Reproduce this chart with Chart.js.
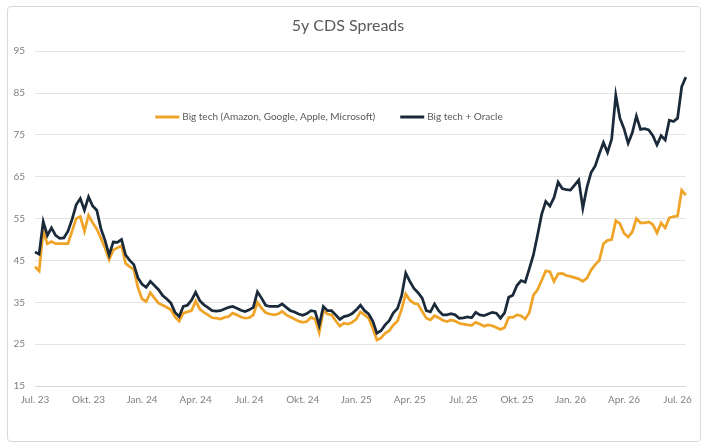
<!DOCTYPE html>
<html>
<head>
<meta charset="utf-8">
<script src="https://cdn.jsdelivr.net/npm/chart.js@4.4.1/dist/chart.umd.min.js"></script>
<style>
  html, body { margin: 0; padding: 0; background: #fff; }
  #box {
    position: absolute; left: 7px; top: 6px;
    width: 692px; height: 434px;
    border: 1px solid #d9d9d9; border-radius: 4px;
  }
</style>
</head>
<body>
<div id="box"><canvas id="mycanvas" width="692" height="434"></canvas></div>
<script>
// Quartalslabels der x-Achse, eine Beschriftung alle 13 Wochen
var quarterLabels = ['Jul. 23', 'Okt. 23', 'Jan. 24', 'Apr. 24', 'Jul. 24', 'Okt. 24',
    'Jan. 25', 'Apr. 25', 'Jul. 25', 'Okt. 25', 'Jan. 26', 'Apr. 26', 'Jul. 26'];
var weeksPerQuarter = 13;

// Wochenwerte (bp)
var bigTech = [
    43.5, 42.5, 52, 49, 49.5, 49, 49, 49, 49, 52, 55, 55.5, 52,
    55.8, 54, 52.5, 50.3, 48, 45.2, 47.5, 48, 48.5, 44.3, 43.5, 42.8, 38.5,
    35.8, 35.2, 37.3, 36, 34.8, 34.3, 33.8, 33.2, 31.5, 30.5, 32.4, 32.7, 33,
    35.3, 33.4, 32.6, 32, 31.3, 31.2, 31, 31.4, 31.6, 32.4, 32, 31.5, 31.2,
    31.3, 32, 35, 33.6, 32.5, 32.2, 32, 32.2, 32.8, 32, 31.5, 31, 30.5,
    30.2, 30.4, 31.4, 31, 27.8, 33, 32.2, 32, 30.6, 29.3, 30, 29.8, 30.2,
    31, 32.7, 32, 31.2, 28.8, 26, 26.5, 27.6, 28.2, 29.6, 30.5, 33.3, 37,
    35.5, 34.8, 34.5, 32.8, 31.2, 30.8, 31.8, 31.3, 30.7, 30.4, 30.8, 30.5, 30,
    29.8, 29.6, 29.5, 30.2, 29.8, 29.3, 29.6, 29.4, 29, 28.5, 29, 31.4, 31.4,
    32, 31.8, 31, 32.5, 36.7, 38, 40.2, 42.5, 42.3, 40, 41.8, 41.9, 41.4,
    41.2, 40.9, 40.6, 40, 40.8, 42.7, 44, 45, 49, 49.8, 50, 54.5, 53.8,
    51.5, 50.6, 51.8, 55, 54, 54, 54.2, 53.6, 51.6, 54, 52.8, 55.2, 55.5,
    55.6, 61.8, 60.6
];
var bigTechOracle = [
    47, 46.5, 54.3, 51, 52.8, 51, 50.3, 50.4, 52, 54.8, 58.3, 59.8, 57,
    60.2, 58, 57, 52.6, 49.8, 46.3, 49.4, 49.3, 50, 46.3, 45, 44, 40.8,
    39.3, 38.6, 40, 39, 38, 36.6, 35.8, 34.8, 32.6, 31.6, 34, 34.3, 35.5,
    37.4, 35.4, 34.4, 33.7, 33, 32.9, 33, 33.4, 33.8, 34, 33.6, 33.1, 32.8,
    33.2, 33.8, 37.5, 36, 34.3, 34, 34, 34, 34.6, 33.8, 33, 32.7, 32.2,
    31.9, 32.3, 33, 32.8, 29.5, 34, 33, 33, 32, 30.9, 31.6, 31.8, 32.3,
    33.2, 34.3, 33, 32.2, 30.5, 27.6, 28.2, 29.6, 30.6, 32.5, 33.5, 36.5, 42,
    40, 38.3, 37.3, 36, 33, 32.7, 34.6, 33, 32, 32, 32.3, 32, 31.2,
    31.3, 31.5, 31.3, 32.6, 32, 31.8, 32.2, 32.6, 32.4, 31.2, 32.5, 36.2, 36.7,
    39, 40.2, 39.8, 43, 46.3, 51, 56, 59.1, 58, 60, 63.7, 62.2, 61.9,
    61.8, 63, 64.2, 57.5, 62.5, 66, 67.6, 70.5, 73.2, 70.8, 74, 84.5, 79,
    76.5, 73, 75.5, 79.5, 76.3, 76.5, 76.2, 74.8, 72.6, 74.8, 73.8, 78.5, 78.2,
    79, 86.5, 88.8
];

var weeks = bigTech.map(function (v, i) { return i; });

// Legende in einer Zeile innerhalb des Plotbereichs (wie im Excel-Original)
var innerLegend = {
    id: 'innerLegend',
    afterDraw: function (chart) {
        var c = chart.ctx;
        var sample = 24, gap = 3, spacing = 25;
        c.save();
        c.font = '10px Lato';
        c.textBaseline = 'middle';
        var sets = chart.data.datasets;
        var total = 0;
        sets.forEach(function (ds, i) {
            total += sample + gap + c.measureText(ds.label).width + (i > 0 ? spacing : 0);
        });
        var x = 321 - total / 2;
        var y = 110;
        sets.forEach(function (ds) {
            c.fillStyle = ds.borderColor;
            c.fillRect(x, y - 1.5, sample, 3);
            x += sample + gap;
            c.fillStyle = '#595959';
            c.fillText(ds.label, x, y);
            x += c.measureText(ds.label).width + spacing;
        });
        c.restore();
    }
};

Chart.defaults.font.family = 'Lato';
Chart.defaults.color = '#7f7f7f';

var ctx = document.getElementById('mycanvas');
var chart = new Chart(ctx, {
    type: 'line',
    data: {
        labels: weeks,
        datasets: [
            {
                label: 'Big tech (Amazon, Google, Apple, Microsoft)',
                data: bigTech,
                borderColor: '#efa428',
                backgroundColor: '#efa428',
                borderWidth: 2.75,
                pointRadius: 0,
                order: 1
            },
            {
                label: 'Big tech + Oracle',
                data: bigTechOracle,
                borderColor: '#1b2a3a',
                backgroundColor: '#1b2a3a',
                borderWidth: 2.75,
                pointRadius: 0,
                order: 0
            }
        ]
    },
    options: {
        responsive: false,
        animation: false,
        layout: { padding: { left: 0, right: 12, top: 0, bottom: 0 } },
        plugins: {
            title: {
                display: true,
                text: '5y CDS Spreads',
                color: '#595959',
                font: { size: 16, weight: 'normal' },
                padding: { top: 9, bottom: 16 }
            },
            legend: { display: false },
            tooltip: { enabled: false }
        },
        scales: {
            x: {
                grid: { display: false, drawTicks: false },
                border: { display: true, color: '#d9d9d9' },
                ticks: {
                    autoSkip: false,
                    maxRotation: 0,
                    minRotation: 0,
                    padding: 8,
                    font: { size: 10 },
                    callback: function (val, i) {
                        return i % weeksPerQuarter === 0 ? quarterLabels[i / weeksPerQuarter] : null;
                    }
                },
                afterFit: function (scale) { scale.height = 55; }
            },
            y: {
                min: 15,
                max: 95,
                grid: { color: '#e3e3e3', drawTicks: false },
                border: { display: false },
                ticks: { stepSize: 10, padding: 10, font: { size: 10 } },
                afterFit: function (scale) { scale.width = 27; }
            }
        }
    },
    plugins: [innerLegend]
});
</script>
</body>
</html>
